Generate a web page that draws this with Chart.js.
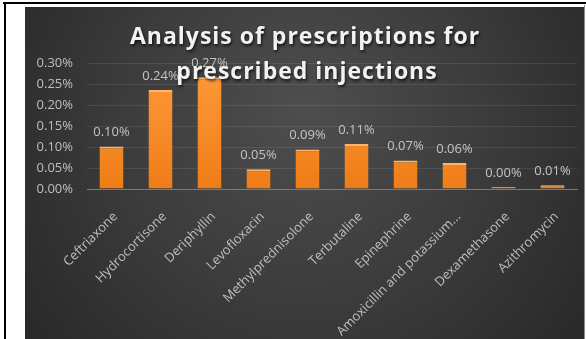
<!DOCTYPE html>
<html>
<head>
<meta charset="utf-8">
<script src="https://cdn.jsdelivr.net/npm/chart.js@4.4.1/dist/chart.umd.min.js"></script>
<style>
  html, body { margin: 0; padding: 0; background: #ffffff; width: 586px; height: 339px; overflow: hidden; }
  #topline { position: absolute; left: 3px; top: 2px; width: 583px; height: 2px; background: #000; }
  #leftline { position: absolute; left: 4px; top: 2px; width: 2px; height: 337px; background: #000; }
  #rightline { position: absolute; left: 584px; top: 5px; width: 1px; height: 334px; background: #8a8a8a; }
  #wrap { position: absolute; left: 25px; top: 7px; width: 559px; height: 332px; }
</style>
</head>
<body>
<div id="topline"></div>
<div id="leftline"></div>
<div id="rightline"></div>
<div id="wrap"><canvas id="c"></canvas></div>
<script>
const categories = ["Ceftriaxone", "Hydrocortisone", "Deriphyllin", "Levofloxacin", "Methylprednisolone", "Terbutaline", "Epinephrine", "Amoxicillin and potassium...", "Dexamethasone", "Azithromycin"];
const percentValues = [0.101, 0.236, 0.266, 0.047, 0.094, 0.107, 0.068, 0.062, 0.003, 0.009];
const valueLabels = ["0.10%", "0.24%", "0.27%", "0.05%", "0.09%", "0.11%", "0.07%", "0.06%", "0.00%", "0.01%"];
const titleLines = ["Analysis of prescriptions for", "prescribed injections"];

const bgPlugin = {
  id: 'bg',
  beforeDraw(chart) {
    const ctx = chart.ctx, w = chart.width, h = chart.height;
    ctx.save();
    const g = ctx.createRadialGradient(w * 0.5, h * 0.3, 10, w * 0.5, h * 0.4, w * 0.62);
    g.addColorStop(0, '#4d4d4d');
    g.addColorStop(0.5, '#3c3c3c');
    g.addColorStop(1, '#282828');
    ctx.fillStyle = g;
    ctx.fillRect(0, 0, w, h);
    ctx.restore();
  }
};

const labelPlugin = {
  id: 'vlabels',
  afterDatasetsDraw(chart) {
    const ctx = chart.ctx;
    const meta = chart.getDatasetMeta(0);
    ctx.save();
    ctx.font = '13px "Open Sans", sans-serif';
    ctx.fillStyle = '#c4c4c4';
    ctx.textAlign = 'center';
    ctx.textBaseline = 'middle';
    meta.data.forEach((bar, i) => {
      ctx.fillText(valueLabels[i], bar.x, bar.y - 14);
    });
    ctx.restore();
  }
};

const titlePlugin = {
  id: 'ttl',
  afterDraw(chart) {
    const ctx = chart.ctx;
    ctx.save();
    ctx.font = 'bold 23px "Open Sans", sans-serif';
    try { ctx.letterSpacing = '1px'; } catch (e) {}
    ctx.textAlign = 'center';
    ctx.textBaseline = 'middle';
    ctx.shadowColor = 'rgba(0,0,0,0.7)';
    ctx.shadowBlur = 3;
    ctx.shadowOffsetX = 1;
    ctx.shadowOffsetY = 2;
    ctx.fillStyle = '#f2f2f2';
    ctx.fillText(titleLines[0], 280, 30);
    ctx.fillText(titleLines[1], 282, 65);
    ctx.restore();
  }
};

const ctx = document.getElementById('c');
new Chart(ctx, {
  type: 'bar',
  data: {
    labels: categories,
    datasets: [{
      data: percentValues,
      backgroundColor(context) {
        const chart = context.chart;
        const area = chart.chartArea;
        if (!area) return '#f0821e';
        const g = chart.ctx.createLinearGradient(0, area.top, 0, area.bottom);
        g.addColorStop(0, '#ff9a3c');
        g.addColorStop(1, '#ef7d17');
        return g;
      },
      borderColor: '#ffb46e',
      borderWidth: { top: 2, left: 0, right: 0, bottom: 0 },
      borderSkipped: false,
      minBarLength: 2,
      categoryPercentage: 1,
      barPercentage: 0.49
    }]
  },
  options: {
    responsive: true,
    maintainAspectRatio: false,
    animation: false,
    layout: { padding: { top: 56, right: 7, left: 0, bottom: 0 } },
    plugins: { legend: { display: false }, tooltip: { enabled: false }, title: { display: false } },
    scales: {
      x: {
        grid: { display: false, drawTicks: false },
        border: { display: true, color: '#7a7a7a', width: 1 },
        ticks: {
          autoSkip: false,
          minRotation: 45,
          maxRotation: 45,
          padding: 20,
          labelOffset: 4,
          color: '#bfbfbf',
          font: { family: '"Open Sans", sans-serif', size: 13 }
        },
        afterFit(s) { s.height = 150; }
      },
      y: {
        min: 0,
        max: 0.30,
        grid: { color: 'rgba(255,255,255,0.09)', drawTicks: false },
        border: { display: false },
        ticks: {
          stepSize: 0.05,
          padding: 14,
          color: '#bfbfbf',
          font: { family: '"Open Sans", sans-serif', size: 13 },
          callback: v => v.toFixed(2) + '%'
        },
        afterFit(s) { s.width = 62; }
      }
    }
  },
  plugins: [bgPlugin, labelPlugin, titlePlugin]
});
</script>
</body>
</html>
